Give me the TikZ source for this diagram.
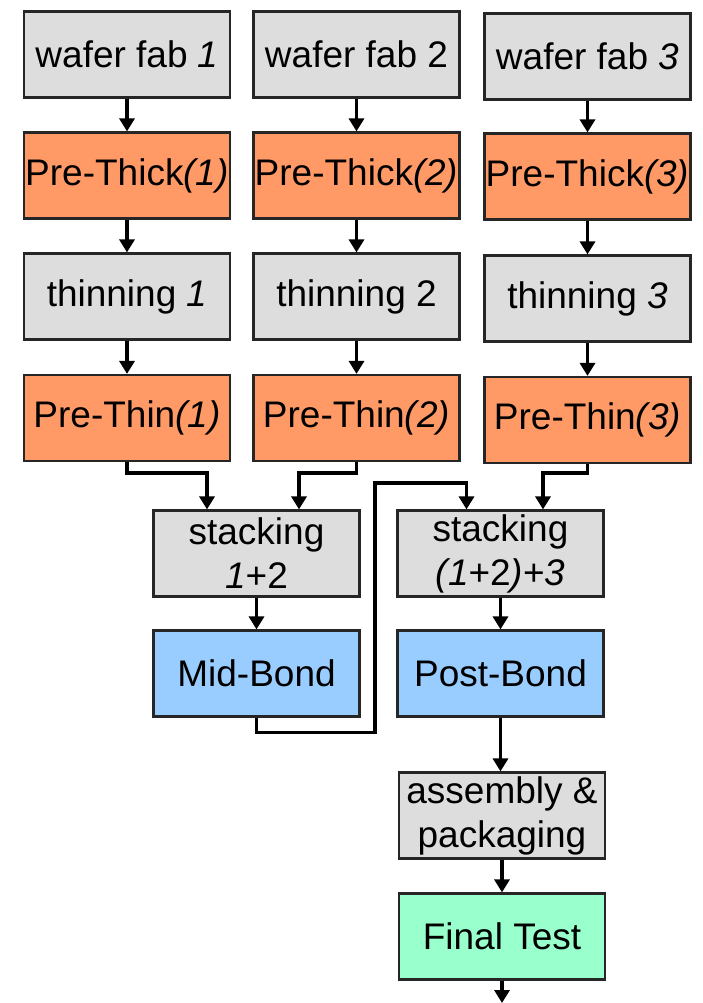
\documentclass[tikz,border=0pt]{standalone}
\usepackage{fontspec}
\setmainfont{Liberation Sans}
\usetikzlibrary{arrows.meta}
\definecolor{boxgray}{HTML}{DDDDDD}
\definecolor{boxorange}{HTML}{FF9966}
\definecolor{boxblue}{HTML}{99CCFF}
\definecolor{boxgreen}{HTML}{99FFCC}
\tikzset{
  stagebox/.style={draw=black!85, line width=2.2pt, minimum width=206pt, minimum height=86pt,
    inner sep=0pt, align=center, font=\fontsize{37}{44}\selectfont},
  grey/.style={stagebox, fill=boxgray},
  orange/.style={stagebox, fill=boxorange},
  blue/.style={stagebox, fill=boxblue},
  green/.style={stagebox, fill=boxgreen},
  arr/.style={line width=3.6pt, -{Triangle[length=13pt,width=15pt]}},
}
\begin{document}
\begin{tikzpicture}[x=1pt,y=-1pt]
\useasboundingbox (0,0) rectangle (703,1003);
% three wafer streams
\node[grey]   (wf1) at (127,54.5)   {wafer fab \textit{1}};
\node[grey]   (wf2) at (356.5,54.5) {wafer fab 2};
\node[grey]   (wf3) at (587.5,56.5) {wafer fab \textit{3}};
\node[orange] (pk1) at (127,175.5)   {Pre-Thick\textit{(1)}};
\node[orange] (pk2) at (356.5,175.5) {Pre-Thick\textit{(2)}};
\node[orange] (pk3) at (587.5,176.5) {Pre-Thick\textit{(3)}};
\node[grey]   (th1) at (127,296.5)   {thinning \textit{1}};
\node[grey]   (th2) at (356.5,296.5) {thinning 2};
\node[grey]   (th3) at (587.5,298.5) {thinning \textit{3}};
\node[orange] (pt1) at (127,418)   {Pre-Thin\textit{(1)}};
\node[orange] (pt2) at (356.5,418) {Pre-Thin\textit{(2)}};
\node[orange] (pt3) at (587.5,420) {Pre-Thin\textit{(3)}};
% stacking and bonding
\node[grey] (st12)  at (256.5,553.5) {stacking\\\textit{1}+2};
\node[grey] (st123) at (500.5,553.5) {stacking\\\textit{(1}+2\textit{)}+\textit{3}};
\node[blue] (mid)   at (256.5,673.5) {Mid-Bond};
\node[blue] (post)  at (500.5,673.5) {Post-Bond};
% back end
\node[grey]  (asm) at (502,815.5) {assembly \&\\packaging};
\node[green] (ft)  at (502,936.5) {Final Test};
\coordinate (loop) at (375,483);
\coordinate (out) at (502,1003);
% column flows
\foreach \c in {1,2,3}{
  \draw[arr] (wf\c) -- (pk\c);
  \draw[arr] (pk\c) -- (th\c);
  \draw[arr] (th\c) -- (pt\c);
}
% merges into stacking
\draw[arr] (pt1.south) -- ++(0,11) -| ([xshift=-49.5pt]st12.north);
\draw[arr] (pt2.south) -- ++(0,11) -| ([xshift=42.5pt]st12.north);
\draw[arr] (pt3.south) -- ++(0,9) -| ([xshift=42.5pt]st123.north);
\draw[arr] (mid.south) -- ++(0,15) -| (loop) -| ([xshift=-34pt]st123.north);
% downward chain
\draw[arr] (st12) -- (mid);
\draw[arr] (st123) -- (post);
\draw[arr] (post.south) -- (post.south |- asm.north);
\draw[arr] (asm) -- (ft);
\draw[arr] (ft) -- (out);
\end{tikzpicture}
\end{document}
